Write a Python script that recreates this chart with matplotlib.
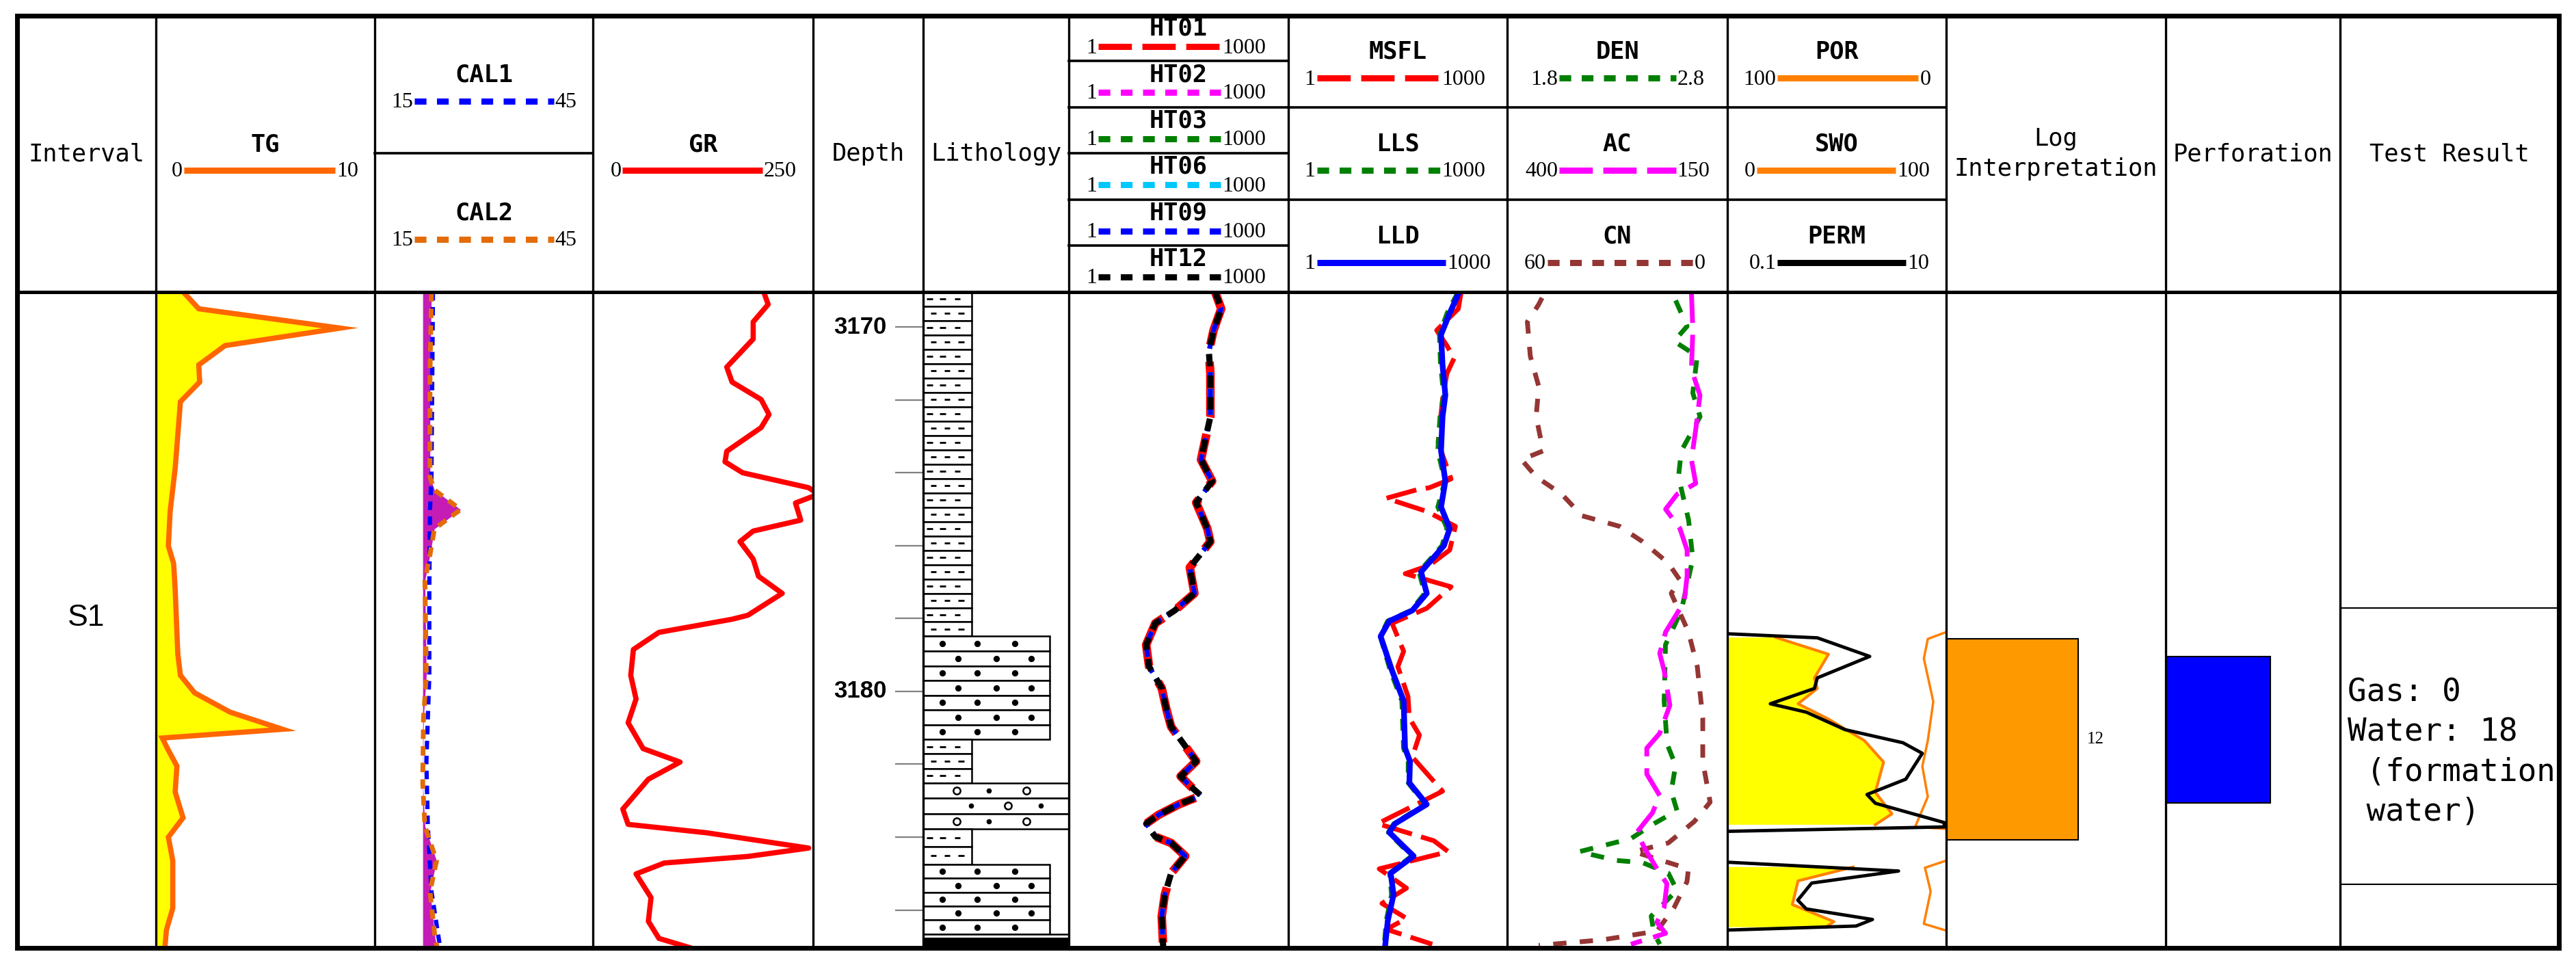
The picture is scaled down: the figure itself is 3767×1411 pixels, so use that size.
import numpy as np
import matplotlib
matplotlib.use("Agg")
import matplotlib.pyplot as plt
from matplotlib.patches import Rectangle

# ---- page layout (pixels of the 3767 x 1411 sheet) ----
W, H = 3767, 1411
EDGES = [25, 228, 548, 867, 1189, 1350, 1563, 1884, 2204, 2526, 2846, 3167, 3422, 3742]
TOP_Y, HEAD_Y, BOT_Y = 23, 427, 1386
DEPTH_TOP, DEPTH_BOT = 3169.04, 3187.04

MONO = "DejaVu Sans Mono"
SERIF = "Liberation Serif"

# ---- data ----
interval_names = ["S1"]
interval_top = [3169.04]
interval_bottom = [3187.04]

depth_major = [3170, 3180]
depth_minor = [3172, 3174, 3176, 3178, 3182, 3184, 3186]

tg_depth = [3169.04, 3169.50, 3170.03, 3170.51, 3171.04, 3171.51, 3172.05, 3173.88, 3175.06, 3176.01,
            3176.49, 3177.20, 3178.97, 3179.56, 3180.04, 3180.57, 3181.04, 3181.28, 3181.57, 3182.05,
            3182.76, 3183.47, 3184.00, 3184.65, 3185.95, 3186.55, 3187.04]
tg = [1.25, 1.96, 8.42, 3.16, 1.96, 2.00, 1.12, 0.88, 0.65, 0.57,
      0.81, 0.88, 1.00, 1.12, 1.77, 3.39, 5.79, 0.29, 0.53, 0.96,
      0.88, 1.24, 0.57, 0.77, 0.77, 0.48, 0.41]

cal2_depth = [3169.04, 3171.28, 3174.12, 3174.47, 3175.01, 3175.54, 3176.25, 3176.96, 3179.56, 3180.75,
              3182.52, 3183.70, 3184.65, 3185.49, 3186.78, 3187.04]
cal2 = [22.8, 22.6, 22.6, 23.2, 26.8, 23.2, 22.6, 21.9, 22.1, 21.7,
        21.6, 21.9, 23.5, 22.6, 23.3, 23.6]
cal1_depth = [3169.04, 3174.12, 3175.01, 3177.20, 3179.56, 3181.94, 3183.70, 3185.49, 3187.04]
cal1 = [23.0, 22.8, 22.6, 22.5, 22.5, 22.1, 22.3, 22.8, 24.0]
bit_size = 21.6

gr_depth = [3169.04, 3169.38, 3169.86, 3170.33, 3171.10, 3171.51, 3171.99, 3172.40, 3172.76, 3173.41,
            3173.70, 3174.00, 3174.41, 3174.59, 3174.83, 3175.30, 3175.60, 3175.89, 3176.37, 3176.84,
            3177.31, 3177.91, 3178.02, 3178.38, 3178.85, 3179.56, 3180.21, 3180.86, 3181.57, 3181.94,
            3182.41, 3183.23, 3183.65, 3183.88, 3184.30, 3184.53, 3184.71, 3185.01, 3185.66, 3186.31,
            3186.78, 3187.04]
gr = [194, 199, 182, 182, 152, 158, 191, 200, 191, 152,
      150, 170, 245, 256, 230, 236, 182, 167, 182, 188,
      215, 176, 158, 75, 46, 43, 49, 40, 57, 99,
      63, 34, 40, 129, 245, 176, 81, 49, 66, 63,
      75, 111]

lith_top = [3169.04, 3178.49, 3181.32, 3182.51, 3183.78, 3184.75, 3186.66, 3186.77]
lith_bottom = [3178.49, 3181.32, 3182.51, 3183.78, 3184.75, 3186.66, 3186.77, 3187.04]
lith_type = ["mud", "sand", "mud", "pebbly", "mud", "sand", "blank", "coal"]

ht_depth = [3169.04, 3169.50, 3170.09, 3170.68, 3171.28, 3171.98, 3172.46, 3173.05, 3173.64, 3174.23,
            3174.82, 3175.53, 3175.89, 3176.60, 3177.31, 3177.78, 3178.13, 3178.72, 3179.32, 3179.91,
            3180.50, 3180.97, 3181.44, 3181.92, 3182.33, 3182.63, 3182.86, 3183.10, 3183.39, 3183.63,
            3183.99, 3184.16, 3184.52, 3184.99, 3185.58, 3186.17, 3187.04]
ht01 = [100, 121, 95, 82, 86, 86, 86, 74, 64, 91,
        55, 78, 86, 45, 52, 28, 15.2, 11.4, 12.5, 18.6,
        21.6, 25, 37, 55, 33.7, 47.5, 64, 32, 16.8, 11.4,
        15.2, 25, 39, 25, 20.5, 18.6, 19.5]
ht02 = ht01
ht03 = ht01
ht06 = ht01
ht09 = ht01
ht12 = ht01

lld_depth = [3169.04, 3169.62, 3170.21, 3171.04, 3171.87, 3172.46, 3173.40, 3174.23, 3174.94, 3175.53,
             3176.00, 3176.72, 3177.31, 3177.78, 3178.07, 3178.49, 3179.43, 3180.26, 3181.56, 3181.92,
             3182.51, 3183.10, 3183.63, 3183.87, 3184.52, 3184.99, 3185.58, 3186.29, 3187.04]
lld = [220, 163, 124, 130, 142, 130, 124, 142, 124, 163,
       136, 66, 79, 50, 24.2, 18.4, 26.4, 38.1, 39.8, 46.5,
       45.6, 79, 29, 24.2, 52.2, 25.3, 27.7, 23.1, 21.1]
lls = [212, 150, 118, 122, 135, 120, 112, 140, 112, 150,
       128, 62, 74, 48, 23, 18.2, 25, 36, 38, 44,
       44, 75, 28, 23.5, 49, 24.5, 26, 22, 20.5]
msfl_depth = [3169.04, 3169.50, 3170.09, 3170.51, 3170.86, 3171.28, 3171.98, 3173.17, 3174.17, 3174.41,
              3174.47, 3174.70, 3175.06, 3175.47, 3176.12, 3176.54, 3176.77, 3177.13, 3177.72, 3178.13,
              3178.90, 3179.32, 3180.14, 3180.73, 3181.20, 3181.80, 3182.74, 3183.63, 3184.10, 3184.40,
              3184.87, 3185.40, 3185.82, 3186.23, 3186.53, 3186.94]
msfl = [234, 214, 108, 149, 187, 149, 130, 113, 170, 86,
        57, 22, 79, 195, 163, 86, 40, 170, 79, 26.4,
        38.1, 31.7, 43.7, 45.6, 62.7, 50, 130, 16.8, 99, 156,
        17.6, 41.7, 19.2, 41.7, 22.1, 94]

ac_depth = [3169.04, 3170.09, 3171.16, 3171.87, 3172.81, 3173.64, 3174.29, 3174.59, 3175.00, 3175.53,
            3176.12, 3176.83, 3177.54, 3178.37, 3178.96, 3179.43, 3180.38, 3181.15, 3181.56, 3182.27,
            3182.86, 3183.33, 3183.87, 3184.34, 3184.93, 3185.28, 3185.93, 3186.34, 3186.64, 3186.94]
ac = [190.8, 189.2, 190.8, 181.1, 185.9, 190.8, 185.9, 207.1, 220.1, 203.9,
      195.7, 195.7, 199.0, 220.1, 226.8, 221.8, 215.3, 226.8, 241.5, 241.5,
      226.8, 235.0, 252.9, 243.1, 228.4, 218.6, 221.8, 230.0, 220.1, 259.5]
den_depth = [3169.27, 3169.98, 3170.39, 3170.80, 3171.81, 3172.46, 3173.40, 3174.11, 3175.30, 3176.36,
             3177.78, 3178.72, 3180.26, 3181.44, 3182.03, 3182.74, 3183.27, 3183.63, 3184.04, 3184.40,
             3184.64, 3184.70, 3184.99, 3185.46, 3186.17, 3186.64, 3186.94]
den = [2.565, 2.617, 2.558, 2.663, 2.643, 2.676, 2.591, 2.578, 2.624, 2.643,
       2.591, 2.519, 2.513, 2.526, 2.565, 2.545, 2.571, 2.467, 2.362, 2.127,
       2.297, 2.415, 2.532, 2.571, 2.454, 2.467, 2.493]
cn_depth = [3169.20, 3169.38, 3169.86, 3170.80, 3171.63, 3172.46, 3173.40, 3173.64, 3174.11, 3174.59,
            3175.18, 3175.47, 3175.89, 3176.48, 3176.95, 3177.31, 3178.37, 3179.32, 3180.73, 3181.92,
            3183.04, 3183.57, 3184.16, 3184.40, 3184.87, 3185.22, 3185.93, 3186.58, 3186.82, 3186.97]
cn = [50.5, 51.4, 54.5, 53.7, 51.4, 52.1, 50.2, 56.1, 52.1, 45.1,
      39.6, 29.4, 23.1, 16.1, 12.9, 15.3, 10.6, 8.2, 6.7, 6.7,
      4.7, 9.0, 16.1, 25.5, 10.6, 11.0, 14.5, 19.2, 34.1, 51.4]

nan = np.nan
por_depth = [3178.52, 3178.98, 3179.63, 3179.92, 3180.34, 3180.76, 3181.35, 3181.94, 3182.77, 3183.36,
             3183.66, nan, 3184.82, 3185.20, 3185.85, 3186.32, 3186.47]
por = [77.8, 53.8, 60.2, 58.9, 67.7, 53.8, 37.4, 28.6, 32.4, 24.8,
       32.4, nan, 42.5, 67.7, 70.3, 51.3, 55.0]
swo_depth = [3178.39, 3178.56, 3179.10, 3180.28, 3181.35, 3182.06, 3182.89, 3183.72, 3183.77, nan,
             3184.66, 3184.84, 3185.49, 3186.38, 3186.55]
swo = [99.2, 91.6, 89.8, 94.1, 91.6, 89.1, 91.6, 85.8, 99.2, nan,
       99.2, 90.3, 92.9, 89.8, 99.2]
perm_depth = [3178.42, 3178.53, 3179.04, 3179.63, 3179.92, 3180.34, 3180.57, 3181.05, 3181.41, 3181.70,
              3182.41, 3182.83, 3183.07, 3183.60, 3183.72, 3183.84, nan,
              3184.69, 3184.93, 3185.26, 3185.73, 3185.97, 3186.26, 3186.44, 3186.55]
perm = [0.103, 0.664, 2.0, 0.664, 0.625, 0.247, 0.526, 1.19, 4.03, 6.05,
        4.27, 1.89, 2.25, 9.6, 9.6, 0.103, nan,
        0.103, 3.67, 0.59, 0.44, 0.526, 2.12, 1.5, 0.103]

interp_top = [3178.56]
interp_bottom = [3184.07]
interp_label = ["12"]
perf_top = [3179.04]
perf_bottom = [3183.07]
test_top = [3177.71]
test_bottom = [3185.29]
test_lines = ["Gas: 0", "Water: 18", " (formation", " water)"]

# ---- styles ----
HEAD_LS = {"solid": "-", "dash": (0, (5.4, 1.7)), "dot": (0, (1.9, 1.7))}
BODY_LS = {"solid": "-", "dash": (0, (6.5, 2.0)), "dot": (0, (2.0, 1.5))}
RED, MAGENTA, GREEN, CYAN, BLUE = "#FF0000", "#FF00FF", "#008000", "#00C8FF", "#0000FF"
BROWN, ORANGE, TGORANGE, CALORANGE = "#943634", "#FF8000", "#FF6600", "#E36C09"
TITLE_SIZE = 25.5

# header legend layout: column, row top, row bottom, name, left, right, colour, style, line start/end (fraction)
HEADER_CURVES = [
    (1, 23, 427, "TG", "0", "10", TGORANGE, "solid", 0.128, 0.819),
    (2, 23, 224, "CAL1", "15", "45", BLUE, "dot", 0.182, 0.820),
    (2, 224, 427, "CAL2", "15", "45", CALORANGE, "dot", 0.182, 0.820),
    (3, 23, 427, "GR", "0", "250", RED, "solid", 0.135, 0.770),
    (6, 23, 89, "HT01", "1", "1000", RED, "dash", 0.135, 0.692),
    (6, 89, 157, "HT02", "1", "1000", MAGENTA, "dot", 0.135, 0.692),
    (6, 157, 224, "HT03", "1", "1000", GREEN, "dot", 0.135, 0.692),
    (6, 224, 292, "HT06", "1", "1000", CYAN, "dot", 0.135, 0.692),
    (6, 292, 359, "HT09", "1", "1000", BLUE, "dot", 0.135, 0.692),
    (6, 359, 427, "HT12", "1", "1000", "black", "dot", 0.135, 0.692),
    (7, 23, 157, "MSFL", "1", "1000", RED, "dash", 0.13, 0.695),
    (7, 157, 292, "LLS", "1", "1000", GREEN, "dot", 0.13, 0.695),
    (7, 292, 427, "LLD", "1", "1000", BLUE, "solid", 0.13, 0.72),
    (8, 23, 157, "DEN", "1.8", "2.8", GREEN, "dot", 0.237, 0.766),
    (8, 157, 292, "AC", "400", "150", MAGENTA, "dash", 0.237, 0.766),
    (8, 292, 427, "CN", "60", "0", BROWN, "dot", 0.183, 0.844),
    (9, 23, 157, "POR", "100", "0", ORANGE, "solid", 0.229, 0.873),
    (9, 157, 292, "SWO", "0", "100", ORANGE, "solid", 0.133, 0.770),
    (9, 292, 427, "PERM", "0.1", "10", "black", "solid", 0.229, 0.815),
]
HEADER_TITLES = [(0, "Interval"), (4, "Depth"), (5, "Lithology"),
                 (10, "Log\nInterpretation"), (11, "Perforation"), (12, "Test Result")]

fig = plt.figure(figsize=(W / 100, H / 100), dpi=100, facecolor="white")


def track(col, xlim=(0, 1), log=False):
    x0, x1 = EDGES[col], EDGES[col + 1]
    ax = fig.add_axes([x0 / W, 1 - BOT_Y / H, (x1 - x0) / W, (BOT_Y - HEAD_Y) / H])
    if log:
        ax.set_xscale("log")
    ax.set_xlim(*xlim)
    ax.set_ylim(DEPTH_BOT, DEPTH_TOP)
    ax.axis("off")
    return ax


# interval
ax = track(0)
for name, t, b in zip(interval_names, interval_top, interval_bottom):
    ax.text(0.5, (t + b) / 2 - 0.05, name, ha="center", va="center", fontsize=32,
            family="Liberation Sans")

# TG
ax = track(1, (0, 10))
ax.fill_betweenx(tg_depth, 0, tg, color="#FFFF00", lw=0)
ax.plot(tg, tg_depth, color=TGORANGE, lw=5.5, solid_joinstyle="miter")

# caliper
ax = track(2, (15, 45))
c2 = np.array(cal2)
ax.fill_betweenx(cal2_depth, bit_size, c2, where=c2 >= bit_size, color="#C41CB5", lw=0)
ax.plot(cal1, cal1_depth, color=BLUE, lw=4.5, ls=BODY_LS["dot"])
ax.plot(cal2, cal2_depth, color=CALORANGE, lw=5, ls=BODY_LS["dot"])

# GR
ax = track(3, (0, 250))
ax.plot(gr, gr_depth, color=RED, lw=5.5)

# depth scale
ax = track(4)
ax.hlines(depth_major + depth_minor, 0.745, 1.0, color="#808080", lw=1.6)
for d in depth_major:
    ax.text(0.67, d, str(d), ha="right", va="center", fontsize=25, fontweight="bold",
            family="Liberation Sans")

# lithology
ax = track(5)
lith_width = {"mud": 0.333, "sand": 0.867, "pebbly": 1.0, "blank": 1.0, "coal": 1.0}
for t, b, kind in zip(lith_top, lith_bottom, lith_type):
    w = lith_width[kind]
    if kind == "coal":
        ax.add_patch(Rectangle((0, t), w, b - t, facecolor="black", edgecolor="black", lw=1.5))
        continue
    nrows = max(1, int(round((b - t) / 0.4)))
    rows = np.linspace(t, b, nrows + 1)
    for k in range(nrows):
        ax.add_patch(Rectangle((0, rows[k]), w, rows[k + 1] - rows[k], facecolor="white",
                               edgecolor="black", lw=1.8))
        yc = (rows[k] + rows[k + 1]) / 2
        if kind == "mud":
            xs = np.array([0.07, 0.165, 0.26] if k % 2 else [0.045, 0.135, 0.235])
            ax.hlines([yc] * 3, xs - 0.02, xs + 0.02, color="black", lw=2)
        elif kind == "sand":
            xs = [0.13, 0.37, 0.63] if k % 2 == 0 else [0.24, 0.50, 0.743]
            ax.scatter(xs, [yc] * 3, s=32, color="black", zorder=3)
        elif kind == "pebbly":
            if k % 2 == 0:
                circ, dots = [0.228, 0.707], [0.452]
            else:
                circ, dots = [0.58], [0.33, 0.807]
            ax.scatter(circ, [yc] * len(circ), s=55, facecolor="white", edgecolor="black",
                       lw=1.8, zorder=3)
            ax.scatter(dots, [yc] * len(dots), s=20, color="black", zorder=3)

# HT array induction
ax = track(6, (1, 1000), log=True)
ax.plot(ht01, ht_depth, color=RED, lw=9, ls=BODY_LS["dash"])
ax.plot(ht02, ht_depth, color=MAGENTA, lw=5, ls=BODY_LS["dot"])
ax.plot(ht03, ht_depth, color=GREEN, lw=5, ls=BODY_LS["dot"])
ax.plot(ht06, ht_depth, color=CYAN, lw=5, ls=BODY_LS["dot"])
ax.plot(ht09, ht_depth, color=BLUE, lw=5, ls=BODY_LS["dot"])
ax.plot(ht12, ht_depth, color="black", lw=6.5, ls=BODY_LS["dot"])

# resistivity
ax = track(7, (1, 1000), log=True)
ax.plot(msfl, msfl_depth, color=RED, lw=5, ls=BODY_LS["dash"])
ax.plot(lls, lld_depth, color=GREEN, lw=5, ls=(0, (2.5, 2)))
ax.plot(lld, lld_depth, color=BLUE, lw=6)

# porosity logs
ax = track(8, (60, 0))
ax.plot(cn, cn_depth, color=BROWN, lw=5, ls=(0, (2.8, 2.8)))
ax = track(8, (1.8, 2.8))
ax.plot(den, den_depth, color=GREEN, lw=5, ls=(0, (2.8, 2.8)))
ax = track(8, (400, 150))
ax.plot(ac, ac_depth, color=MAGENTA, lw=5, ls=(0, (6.5, 2.5)))

# interpretation curves
ax = track(9, (100, 0))
ax.fill_betweenx(por_depth, 100, por, color="#FFFF00", lw=0)
ax.plot(por, por_depth, color=ORANGE, lw=3)
ax = track(9, (0, 100))
ax.plot(swo, swo_depth, color=ORANGE, lw=2.5)
ax = track(9, (0.1, 10), log=True)
ax.plot(perm, perm_depth, color="black", lw=3.5)

# log interpretation
ax = track(10)
for t, b, lab in zip(interp_top, interp_bottom, interp_label):
    ax.barh((t + b) / 2, 0.6, height=b - t, left=0, color="#FF9900", edgecolor="black", lw=1.5)
    ax.text(0.64, (t + b) / 2, lab, ha="left", va="center", fontsize=18, family=SERIF)

# perforation
ax = track(11)
for t, b in zip(perf_top, perf_bottom):
    ax.barh((t + b) / 2, 0.6, height=b - t, left=0, color=BLUE, edgecolor="black", lw=1.5)

# test result
ax = track(12)
ax.hlines(test_top + test_bottom, 0, 1, color="black", lw=1.5)

# ---- frame and header (pixel space) ----
fr = fig.add_axes([0, 0, 1, 1], zorder=10)
fr.set_xlim(0, W)
fr.set_ylim(H, 0)
fr.axis("off")

for i, x in enumerate(EDGES):
    if i in (0, len(EDGES) - 1):
        fr.plot([x, x], [TOP_Y, BOT_Y], color="black", lw=5, solid_capstyle="projecting")
    else:
        fr.plot([x, x], [TOP_Y, BOT_Y], color="black", lw=2.4)
fr.plot([EDGES[0], EDGES[-1]], [TOP_Y, TOP_Y], color="black", lw=5, solid_capstyle="projecting")
fr.plot([EDGES[0], EDGES[-1]], [BOT_Y, BOT_Y], color="black", lw=5, solid_capstyle="projecting")
fr.plot([EDGES[0], EDGES[-1]], [HEAD_Y, HEAD_Y], color="black", lw=3.6)

for col, y0, y1, name, lo, hi, color, style, f0, f1 in HEADER_CURVES:
    x0, x1 = EDGES[col], EDGES[col + 1]
    if y0 > TOP_Y:
        fr.plot([x0, x1], [y0, y0], color="black", lw=2.6)
    yc = (y0 + y1) / 2
    name_y = yc - 14
    line_y = yc + (12 if y1 - y0 < 100 else 24)
    fr.text((x0 + x1) / 2, name_y, name, ha="center", va="center", fontsize=TITLE_SIZE,
            family=MONO, fontweight="bold")
    lx0 = x0 + f0 * (x1 - x0)
    lx1 = x0 + f1 * (x1 - x0)
    fr.plot([lx0, lx1], [line_y, line_y], color=color, lw=6.5, ls=HEAD_LS[style],
            solid_capstyle="butt")
    fr.text(lx0 - 2, line_y + 2, lo, ha="right", va="center", fontsize=23, family=SERIF)
    fr.text(lx1 + 2, line_y + 2, hi, ha="left", va="center", fontsize=23, family=SERIF)

for col, title in HEADER_TITLES:
    cx = (EDGES[col] + EDGES[col + 1]) / 2
    fr.text(cx, 225, title, ha="center", va="center", fontsize=TITLE_SIZE, family=MONO,
            linespacing=1.4)

for k, line in enumerate(test_lines):
    fr.text(3433, 1025 + 58 * k, line, ha="left", va="baseline", fontsize=33,
            family=[MONO, "Noto Sans CJK SC"])

fig.savefig("out.png", dpi=100, facecolor="white")
